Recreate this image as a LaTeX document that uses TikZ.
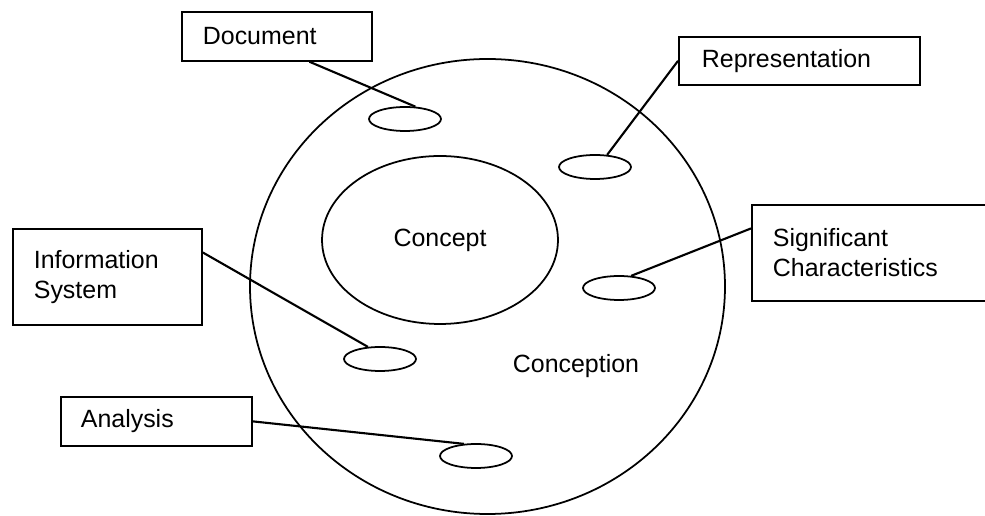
\documentclass[tikz,border=0pt]{standalone}
\usepackage{fontspec}
\setmainfont{Liberation Sans}
\usetikzlibrary{calc,shapes.geometric}
\tikzset{
	labelbox/.style={draw, line width=1pt, rectangle, anchor=north west, inner xsep=0.42cm, inner ysep=0pt, align=left},
	spot/.style={draw, line width=1pt, ellipse, minimum width=1.44cm, minimum height=0.48cm, inner sep=0pt},
	link/.style={line width=1.2pt}
}

\begin{document}
\begin{tikzpicture}[x=0.02cm, y=-0.02cm, font=\fontsize{14.2}{17}\selectfont]
				\clip (0, 0) rectangle (985, 516);
				\fill[white] (0, 0) rectangle (985, 516);
				
				% outer circle and inner ellipse
				\draw[line width=1pt] (487.5, 286.5) ellipse (237.5 and 227.5);
				\node[draw, line width=1pt, ellipse, minimum width=4.72cm, minimum height=3.36cm, inner sep=0pt] (concept) at (440, 240) {\raisebox{0.09cm}{Concept}};
				\node (conception) at (576, 366) {Conception};
				
				% small ellipses
				\node[spot] (sdoc) at (405, 119) {};
				\node[spot] (srep) at (595, 167) {};
				\node[spot] (ssig) at (619, 288) {};
				\node[spot] (sinf) at (380, 359) {};
				\node[spot] (sana) at (476, 456) {};
				
				% label boxes
				\node[labelbox, text width=2.96cm, minimum height=0.98cm] (doc) at (181, 11) {Document};
				\node[labelbox, text width=3.90cm, minimum height=0.96cm, inner xsep=0.46cm] (rep) at (678, 36) {Representation};
				\node[labelbox, text width=4.14cm, minimum height=1.92cm] (sig) at (751, 204) {Significant\\Characteristics};
				\node[labelbox, text width=2.94cm, minimum height=1.92cm] (inf) at (12, 228) {Information\\System};
				\node[labelbox, text width=3.02cm, minimum height=0.98cm, inner xsep=0.4cm] (ana) at (60, 396) {Analysis};
				
				% connectors
				\draw[link] ($(doc.south west)!0.67!(doc.south east)$) -- (sdoc.50);
				\draw[link] (rep.west) -- (srep.45);
				\draw[link] ($(sig.north west)!0.25!(sig.south west)$) -- (ssig.45);
				\draw[link] ($(inf.north east)!0.25!(inf.south east)$) -- (sinf.135);
				\draw[link] (ana.east) -- (sana.135);
			\end{tikzpicture}
\end{document}
